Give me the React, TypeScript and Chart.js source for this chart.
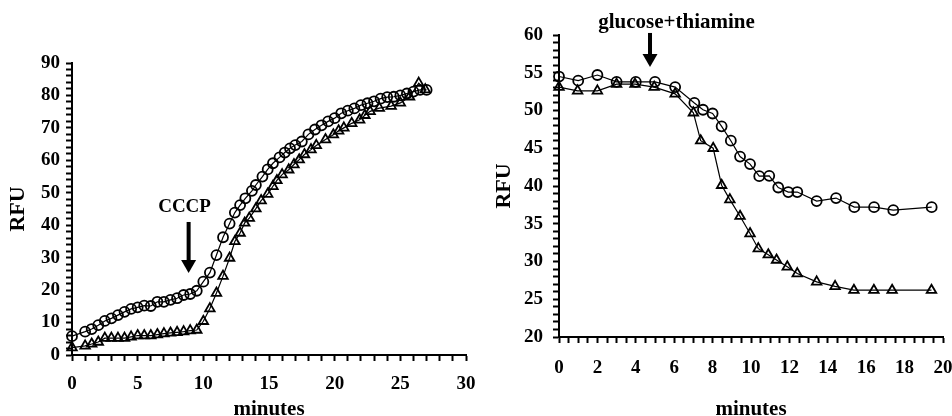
import React, { useEffect, useRef } from 'react';
import { Chart, registerables } from 'chart.js';

Chart.register(...registerables);

// ---------- Left panel (CCCP) ----------
const leftCircleMinutes = [0, 1.0, 1.5, 2.0, 2.5, 3.0, 3.5, 4.0, 4.5, 5.0, 5.5, 6.0, 6.5, 7.0, 7.5, 8.0, 8.5, 9.0, 9.5, 10.0, 10.5, 11.0, 11.5, 12.0, 12.4, 12.8, 13.2, 13.7, 14.0, 14.5, 14.9, 15.3, 15.8, 16.2, 16.6, 17.0, 17.5, 18.0, 18.5, 19.0, 19.5, 20.0, 20.5, 21.0, 21.5, 22.0, 22.5, 23.0, 23.5, 24.0, 24.5, 25.0, 25.5, 26.0, 26.5, 27.0];
const leftCircleRfu = [5.8, 7.2, 8.0, 9.2, 10.5, 11.3, 12.3, 13.3, 14.2, 14.7, 15.2, 15.1, 16.4, 16.4, 17.0, 17.5, 18.5, 18.8, 19.8, 22.6, 25.4, 30.8, 36.3, 40.5, 43.9, 46.2, 48.3, 50.6, 52.4, 55.0, 57.2, 59.1, 60.9, 62.4, 63.7, 64.7, 65.8, 68.0, 69.5, 70.8, 72.0, 73.0, 74.5, 75.3, 76.0, 77.0, 77.6, 78.2, 79.0, 79.5, 79.6, 80.0, 80.6, 81.2, 81.7, 81.7];
const leftTriangleMinutes = [0, 1.0, 1.5, 2.0, 2.5, 3.0, 3.5, 4.0, 4.5, 5.0, 5.5, 6.0, 6.5, 7.0, 7.5, 8.0, 8.5, 9.0, 9.5, 10.0, 10.5, 11.0, 11.5, 12.0, 12.4, 12.8, 13.15, 13.5, 14.0, 14.4, 14.9, 15.3, 15.6, 16.0, 16.5, 16.9, 17.3, 17.7, 18.2, 18.6, 19.3, 19.9, 20.3, 20.7, 21.3, 21.9, 22.3, 22.7, 23.4, 24.3, 25.0, 25.7, 26.4, 26.9];
const leftTriangleRfu = [2.3, 2.8, 3.4, 4.0, 5.2, 5.2, 5.2, 5.2, 5.6, 6.0, 6.0, 6.0, 6.3, 6.6, 6.8, 7.0, 7.2, 7.5, 7.7, 10.4, 14.3, 19.1, 24.3, 29.9, 35.0, 37.6, 40.7, 42.2, 45.1, 47.6, 49.6, 52.0, 53.8, 55.6, 57.1, 58.7, 60.2, 61.8, 63.3, 64.6, 66.4, 67.9, 69.1, 70.0, 71.4, 72.5, 73.9, 75.1, 76.1, 76.7, 77.7, 79.6, 83.8, 81.8];

// ---------- Right panel (glucose+thiamine) ----------
const rightCircleMinutes = [0, 1, 2, 3, 4, 5, 6.05, 7.05, 7.5, 8.0, 8.47, 8.95, 9.43, 9.95, 10.43, 10.95, 11.42, 11.94, 12.41, 13.42, 14.43, 15.38, 16.41, 17.41, 19.41];
const rightCircleRfu = [54.5, 53.95, 54.7, 53.8, 53.8, 53.8, 53.1, 51.0, 50.1, 49.6, 47.9, 46.0, 43.9, 42.9, 41.3, 41.35, 39.8, 39.2, 39.2, 38.0, 38.4, 37.2, 37.2, 36.8, 37.2];
const rightTriangleMinutes = [0, 0.97, 2.0, 3.0, 3.96, 4.96, 6.05, 7.0, 7.38, 8.03, 8.47, 8.9, 9.43, 9.95, 10.38, 10.9, 11.33, 11.89, 12.41, 13.42, 14.38, 15.36, 16.4, 17.35, 19.4];
const rightTriangleRfu = [53.1, 52.6, 52.6, 53.5, 53.5, 53.1, 52.2, 49.7, 46.0, 45.0, 40.1, 38.2, 36.0, 33.7, 31.7, 30.9, 30.2, 29.3, 28.4, 27.3, 26.7, 26.2, 26.2, 26.2, 26.2];

const xTitle = 'minutes';
const yTitle = 'RFU';
const leftNote = 'CCCP';
const rightNote = 'glucose+thiamine';

const FONT = "'Liberation Serif', 'Times New Roman', serif";

const zip = (xs: number[], ys: number[]) => xs.map((x, i) => ({ x, y: ys[i] }));

const arrowPlugin = {
  id: 'arrowNote',
  afterDatasetsDraw(chart: any, _args: any, opts: any) {
    const xs = chart.scales.x;
    const ys = chart.scales.y;
    const ctx = chart.ctx;
    ctx.save();
    ctx.fillStyle = '#000';
    const ax = xs.getPixelForValue(opts.arrowX);
    const top = ys.getPixelForValue(opts.arrowTop);
    const bot = ys.getPixelForValue(opts.arrowBottom);
    const headH = 13;
    const headW = 15;
    ctx.fillRect(ax - 2, top, 4, bot - top - headH + 1);
    ctx.beginPath();
    ctx.moveTo(ax - headW / 2, bot - headH);
    ctx.lineTo(ax + headW / 2, bot - headH);
    ctx.lineTo(ax, bot);
    ctx.closePath();
    ctx.fill();
    ctx.font = `bold ${opts.fontSize}px ${FONT}`;
    ctx.textAlign = 'center';
    ctx.textBaseline = 'middle';
    ctx.fillText(opts.text, xs.getPixelForValue(opts.textX), ys.getPixelForValue(opts.textY));
    ctx.restore();
  },
};

type PanelCfg = {
  circles: { x: number; y: number }[];
  triangles: { x: number; y: number }[];
  xMin: number; xMax: number; xStep: number; xLabelEvery: number;
  yMin: number; yMax: number; yStep: number; yLabelEvery: number;
  yAxisWidth: number; xAxisHeight: number;
  padTop: number; padRight: number;
  yTickPad: number; xTickPad: number; yTitlePad: number;
  note: any;
};

function buildConfig(p: PanelCfg): any {
  const tickFont = { family: FONT, size: 19, weight: 'bold' as const };
  const titleFont = { family: FONT, size: 21, weight: 'bold' as const };
  const yTitleFont = { family: FONT, size: 22, weight: 'bold' as const };
  const isMult = (v: number, m: number) => Math.abs(v / m - Math.round(v / m)) < 1e-6;
  return {
    type: 'scatter',
    data: {
      datasets: [
        {
          data: p.circles,
          showLine: true,
          borderColor: '#000',
          borderWidth: 1.2,
          pointStyle: 'circle',
          pointRadius: 5,
          pointBorderWidth: 1.8,
          pointBorderColor: '#000',
          pointBackgroundColor: 'rgba(0,0,0,0)',
          tension: 0,
          clip: false,
        },
        {
          data: p.triangles,
          showLine: true,
          borderColor: '#000',
          borderWidth: 1.2,
          pointStyle: 'triangle',
          pointRadius: 5.5,
          pointBorderWidth: 1.8,
          pointBorderColor: '#000',
          pointBackgroundColor: 'rgba(0,0,0,0)',
          tension: 0,
          clip: false,
        },
      ],
    },
    options: {
      responsive: false,
      animation: false,
      devicePixelRatio: 1,
      layout: { padding: { left: 0, top: p.padTop, right: p.padRight, bottom: 0 } },
      plugins: {
        legend: { display: false },
        tooltip: { enabled: false },
        arrowNote: p.note,
      },
      scales: {
        x: {
          type: 'linear',
          min: p.xMin,
          max: p.xMax,
          ticks: {
            stepSize: p.xStep,
            autoSkip: false,
            maxTicksLimit: 200,
            maxRotation: 0,
            color: '#000',
            font: tickFont,
            padding: p.xTickPad,
            callback: (v: number) => (isMult(v, p.xLabelEvery) ? String(Math.round(v)) : ''),
          },
          grid: { drawOnChartArea: false, drawTicks: true, tickLength: 6, tickWidth: 2, tickColor: '#000' },
          border: { display: true, color: '#000', width: 2 },
          title: { display: true, text: xTitle, color: '#000', font: titleFont, padding: { top: 0, bottom: 2 } },
          afterFit: (s: any) => {
            s.height = p.xAxisHeight;
            s.paddingLeft = 0;
            s.paddingRight = 0;
          },
        },
        y: {
          type: 'linear',
          min: p.yMin,
          max: p.yMax,
          ticks: {
            stepSize: p.yStep,
            autoSkip: false,
            maxTicksLimit: 200,
            color: '#000',
            font: tickFont,
            padding: p.yTickPad,
            callback: (v: number) => (isMult(v, p.yLabelEvery) ? String(Math.round(v)) : ''),
          },
          grid: { drawOnChartArea: false, drawTicks: true, tickLength: 6, tickWidth: 2, tickColor: '#000' },
          border: { display: true, color: '#000', width: 2 },
          title: { display: true, text: yTitle, color: '#000', font: yTitleFont, padding: { top: p.yTitlePad, bottom: 0 } },
          afterFit: (s: any) => {
            s.width = p.yAxisWidth;
            s.paddingTop = 0;
            s.paddingBottom = 0;
          },
        },
      },
    },
    plugins: [arrowPlugin],
  };
}

const W = 476;
const H = 424;

function Panel({ left, cfg }: { left: number; cfg: PanelCfg }) {
  const ref = useRef<HTMLCanvasElement | null>(null);
  useEffect(() => {
    if (!ref.current) return;
    const chart = new Chart(ref.current, buildConfig(cfg));
    return () => chart.destroy();
  }, []);
  return (
    <canvas
      ref={ref}
      width={W}
      height={H}
      style={{ position: 'absolute', left, top: 0, width: W, height: H, display: 'block' }}
    />
  );
}

export default function App() {
  const leftCfg: PanelCfg = {
    circles: zip(leftCircleMinutes, leftCircleRfu),
    triangles: zip(leftTriangleMinutes, leftTriangleRfu),
    xMin: 0, xMax: 30, xStep: 1, xLabelEvery: 5,
    yMin: 0, yMax: 90, yStep: 2, yLabelEvery: 10,
    yAxisWidth: 72, xAxisHeight: H - 355,
    padTop: 63, padRight: 10,
    yTickPad: 6, xTickPad: 12, yTitlePad: 5,
    note: { text: leftNote, fontSize: 19, textX: 8.57, textY: 45.6, arrowX: 8.88, arrowTop: 41.0, arrowBottom: 25.3 },
  };
  const rightCfg: PanelCfg = {
    circles: zip(rightCircleMinutes, rightCircleRfu),
    triangles: zip(rightTriangleMinutes, rightTriangleRfu),
    xMin: 0, xMax: 20, xStep: 0.5, xLabelEvery: 2,
    yMin: 20, yMax: 60, yStep: 1, yLabelEvery: 5,
    yAxisWidth: 83, xAxisHeight: H - 337,
    padTop: 35, padRight: 9,
    yTickPad: 10, xTickPad: 14, yTitlePad: 15,
    note: { text: rightNote, fontSize: 21, textX: 6.12, textY: 61.6, arrowX: 4.74, arrowTop: 60.27, arrowBottom: 55.77 },
  };
  return (
    <div style={{ position: 'fixed', left: 0, top: 0, width: 952, height: 416, overflow: 'hidden', background: '#fff' }}>
      <Panel left={0} cfg={leftCfg} />
      <Panel left={476} cfg={rightCfg} />
    </div>
  );
}
